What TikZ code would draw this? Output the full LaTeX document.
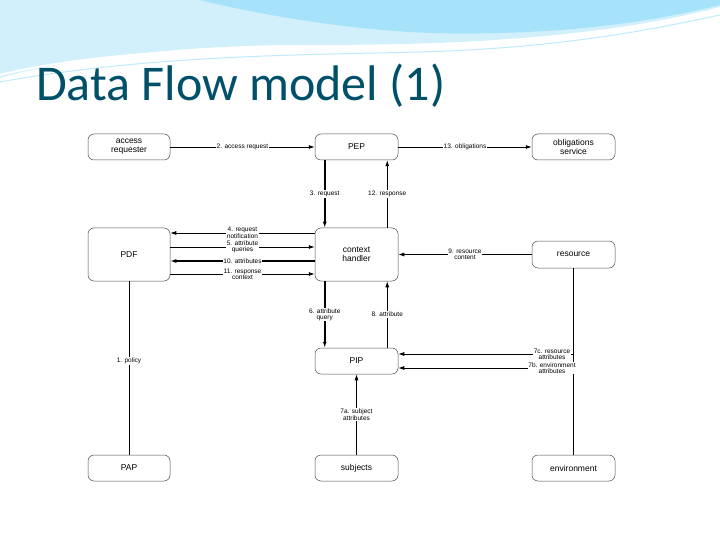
\documentclass[tikz,border=0pt]{standalone}
\usepackage{fontspec}
\setmainfont{Liberation Sans}
\newfontfamily\titlefont{Carlito}
\usetikzlibrary{arrows.meta}
\begin{document}
\begin{tikzpicture}[x=1pt,y=-1pt,
  box/.style={draw=black!70,line width=0.5pt,rounded corners=6pt,fill=white,inner sep=0pt,align=center,font=\fontsize{8.5}{9}\selectfont},
  lab/.style={fill=white,inner sep=0.8pt,align=center,font=\fontsize{6.5}{6}\selectfont},
  arr/.style={-{Latex[length=6pt,width=4pt]},line width=0.8pt},
  tarr/.style={-{Latex[length=6pt,width=4pt]},line width=1.5pt},
  ln/.style={line width=0.8pt}]
\useasboundingbox (0,0) rectangle (720,540);
\fill[white] (0,0) rectangle (720,540);
% top decoration
\fill[cyan!18!white] (0,0) -- (720,0) -- (720,8) .. controls (600,40) and (450,45) .. (300,45) .. controls (180,45) and (60,60) .. (0,78) -- cycle;
\fill[cyan!35!white] (200,0) -- (720,0) -- (720,5) .. controls (620,30) and (520,35) .. (430,33) .. controls (350,30) and (260,15) .. (200,0) -- cycle;
\draw[white,line width=2pt] (0,75) .. controls (80,55) and (200,48) .. (320,47) .. controls (480,46) and (620,35) .. (720,8);
\draw[cyan!25!white,line width=1pt] (0,82) .. controls (150,55) and (300,55) .. (420,52) .. controls (560,48) and (650,30) .. (720,15);
\node[anchor=base west,inner sep=0pt,text=teal!70!black!90!blue,font=\titlefont\fontsize{50}{50}\selectfont] (title) at (36,101) {Data Flow model (1)};
% boxes
\node[box,minimum width=82pt,minimum height=26pt] (ar) at (129,147) {access\\requester};
\node[box,minimum width=83pt,minimum height=26pt] (pep) at (356.5,147) {PEP};
\node[box,minimum width=83pt,minimum height=26pt] (obl) at (573.5,147) {obligations\\service};
\node[box,minimum width=82pt,minimum height=53pt] (pdf) at (129,254.5) {PDF};
\node[box,minimum width=83pt,minimum height=53pt] (ctx) at (356.5,254.5) {context\\handler};
\node[box,minimum width=83pt,minimum height=27pt] (res) at (573.5,254.5) {resource};
\node[box,minimum width=83pt,minimum height=26pt] (pip) at (356.5,361) {PIP};
\node[box,minimum width=82pt,minimum height=26pt] (pap) at (129,468) {PAP};
\node[box,minimum width=83pt,minimum height=26pt] (sub) at (356.5,468) {subjects};
\node[box,minimum width=83pt,minimum height=26pt] (env) at (573.5,468) {environment};
% coordinates
\coordinate (rx) at (574,354);
\coordinate (ry) at (574,368);
% connectors
\draw[arr] (ar) -- node[lab]{2. access request} (pep);
\draw[arr] (pep) -- node[lab]{13. obligations} (obl);
\draw[tarr] (pep.south west) ++(10,0) coordinate (p1) -- node[lab]{3. request} (p1 |- ctx.north);
\draw[arr] (ctx.north east) ++(-11,0) coordinate (p2) -- node[lab]{12. response} (p2 |- pep.south);
\draw[arr] (ctx.west |- 0,233) -- node[lab]{4. request\\notification} (pdf.east |- 0,233);
\draw[arr] (pdf.east |- 0,247) -- node[lab]{5. attribute\\queries} (ctx.west |- 0,247);
\draw[tarr] (ctx.west |- 0,261) -- node[lab]{10. attributes} (pdf.east |- 0,261);
\draw[arr] (pdf.east |- 0,274) -- node[lab]{11. response\\context} (ctx.west |- 0,274);
\draw[arr] (res) -- node[lab]{9. resource\\content} (ctx.east |- res);
\draw[ln] (pdf) -- node[lab,pos=0.46]{1. policy} (pap);
\draw[tarr] (ctx.south west) ++(10,0) coordinate (p3) -- node[lab]{6. attribute\\query} (p3 |- pip.north);
\draw[arr] (pip.north east) ++(-11,0) coordinate (p4) -- node[lab]{8. attribute} (p4 |- ctx.south);
\draw[arr] (sub) -- node[lab]{7a. subject\\attributes} (pip);
\draw[line width=1.5pt] (res) -- (env);
\draw[arr] (rx) -- (pip.east |- rx);
\draw[arr] (ry) -- (pip.east |- ry);
\node[lab] (l7c) at (552,354) {7c. resource\\attributes};
\node[lab] (l7b) at (552,368) {7b. environment\\attributes};
\end{tikzpicture}
\end{document}
